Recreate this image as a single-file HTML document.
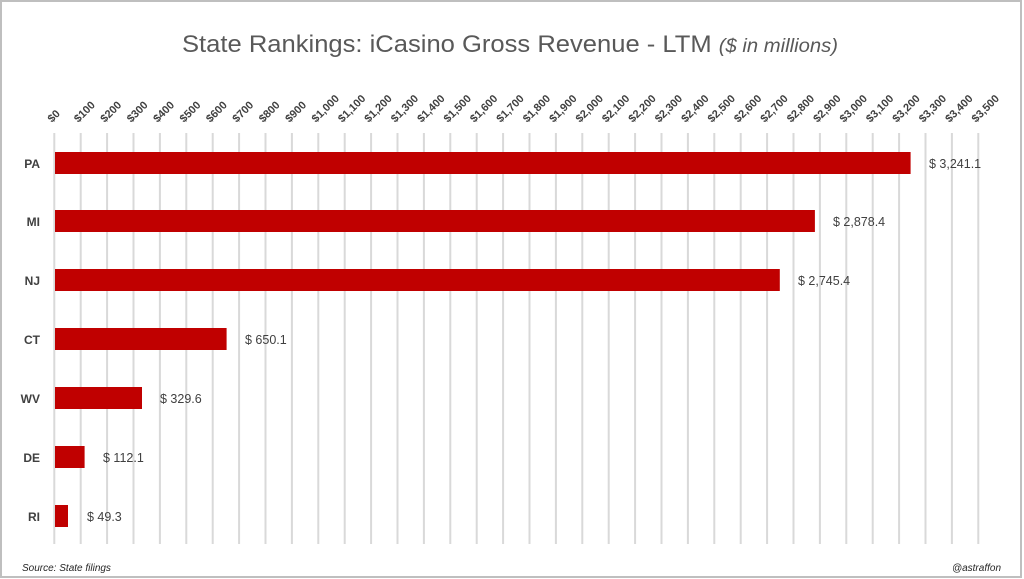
<!DOCTYPE html>
<html><head><meta charset="utf-8"><style>
html,body{margin:0;padding:0;background:#fff;}
svg{display:block;font-family:"Liberation Sans",sans-serif;}
.t{font-size:11px;font-weight:bold;fill:#404040;}
.v{font-size:12.5px;fill:#404040;}
.c{font-size:12px;font-weight:bold;fill:#404040;}
</style></head><body>
<svg width="1024" height="579" viewBox="0 0 1024 579">
<rect x="1" y="1" width="1020" height="576" fill="#fff" stroke="#bfbfbf" stroke-width="2"/>
<text x="510" y="52" text-anchor="middle" font-size="24" fill="#595959" textLength="656" lengthAdjust="spacingAndGlyphs">State Rankings: iCasino Gross Revenue - LTM <tspan font-style="italic" font-size="19">($ in millions)</tspan></text>
<g stroke="#d9d9d9" stroke-width="2">
<line x1="54.3" y1="133" x2="54.3" y2="544"/><line x1="80.7" y1="133" x2="80.7" y2="544"/><line x1="107.1" y1="133" x2="107.1" y2="544"/><line x1="133.5" y1="133" x2="133.5" y2="544"/><line x1="159.9" y1="133" x2="159.9" y2="544"/><line x1="186.3" y1="133" x2="186.3" y2="544"/><line x1="212.7" y1="133" x2="212.7" y2="544"/><line x1="239.1" y1="133" x2="239.1" y2="544"/><line x1="265.5" y1="133" x2="265.5" y2="544"/><line x1="291.9" y1="133" x2="291.9" y2="544"/><line x1="318.3" y1="133" x2="318.3" y2="544"/><line x1="344.7" y1="133" x2="344.7" y2="544"/><line x1="371.1" y1="133" x2="371.1" y2="544"/><line x1="397.5" y1="133" x2="397.5" y2="544"/><line x1="423.9" y1="133" x2="423.9" y2="544"/><line x1="450.3" y1="133" x2="450.3" y2="544"/><line x1="476.7" y1="133" x2="476.7" y2="544"/><line x1="503.1" y1="133" x2="503.1" y2="544"/><line x1="529.5" y1="133" x2="529.5" y2="544"/><line x1="555.9" y1="133" x2="555.9" y2="544"/><line x1="582.3" y1="133" x2="582.3" y2="544"/><line x1="608.7" y1="133" x2="608.7" y2="544"/><line x1="635.1" y1="133" x2="635.1" y2="544"/><line x1="661.5" y1="133" x2="661.5" y2="544"/><line x1="687.9" y1="133" x2="687.9" y2="544"/><line x1="714.3" y1="133" x2="714.3" y2="544"/><line x1="740.7" y1="133" x2="740.7" y2="544"/><line x1="767.1" y1="133" x2="767.1" y2="544"/><line x1="793.5" y1="133" x2="793.5" y2="544"/><line x1="819.9" y1="133" x2="819.9" y2="544"/><line x1="846.3" y1="133" x2="846.3" y2="544"/><line x1="872.7" y1="133" x2="872.7" y2="544"/><line x1="899.1" y1="133" x2="899.1" y2="544"/><line x1="925.5" y1="133" x2="925.5" y2="544"/><line x1="951.9" y1="133" x2="951.9" y2="544"/><line x1="978.3" y1="133" x2="978.3" y2="544"/>
</g>
<g class="t">
<text transform="translate(52,123) rotate(-45)">$0</text>
<text transform="translate(78.4,123) rotate(-45)">$100</text>
<text transform="translate(104.8,123) rotate(-45)">$200</text>
<text transform="translate(131.2,123) rotate(-45)">$300</text>
<text transform="translate(157.6,123) rotate(-45)">$400</text>
<text transform="translate(184,123) rotate(-45)">$500</text>
<text transform="translate(210.4,123) rotate(-45)">$600</text>
<text transform="translate(236.8,123) rotate(-45)">$700</text>
<text transform="translate(263.2,123) rotate(-45)">$800</text>
<text transform="translate(289.6,123) rotate(-45)">$900</text>
<text transform="translate(316,123) rotate(-45)">$1,000</text>
<text transform="translate(342.4,123) rotate(-45)">$1,100</text>
<text transform="translate(368.8,123) rotate(-45)">$1,200</text>
<text transform="translate(395.2,123) rotate(-45)">$1,300</text>
<text transform="translate(421.6,123) rotate(-45)">$1,400</text>
<text transform="translate(448,123) rotate(-45)">$1,500</text>
<text transform="translate(474.4,123) rotate(-45)">$1,600</text>
<text transform="translate(500.8,123) rotate(-45)">$1,700</text>
<text transform="translate(527.2,123) rotate(-45)">$1,800</text>
<text transform="translate(553.6,123) rotate(-45)">$1,900</text>
<text transform="translate(580,123) rotate(-45)">$2,000</text>
<text transform="translate(606.4,123) rotate(-45)">$2,100</text>
<text transform="translate(632.8,123) rotate(-45)">$2,200</text>
<text transform="translate(659.2,123) rotate(-45)">$2,300</text>
<text transform="translate(685.6,123) rotate(-45)">$2,400</text>
<text transform="translate(712,123) rotate(-45)">$2,500</text>
<text transform="translate(738.4,123) rotate(-45)">$2,600</text>
<text transform="translate(764.8,123) rotate(-45)">$2,700</text>
<text transform="translate(791.2,123) rotate(-45)">$2,800</text>
<text transform="translate(817.6,123) rotate(-45)">$2,900</text>
<text transform="translate(844,123) rotate(-45)">$3,000</text>
<text transform="translate(870.4,123) rotate(-45)">$3,100</text>
<text transform="translate(896.8,123) rotate(-45)">$3,200</text>
<text transform="translate(923.2,123) rotate(-45)">$3,300</text>
<text transform="translate(949.6,123) rotate(-45)">$3,400</text>
<text transform="translate(976,123) rotate(-45)">$3,500</text>
</g>
<g fill="#c00000">
<rect x="55" y="152" width="855.6" height="22"/>
<rect x="55" y="210" width="759.9" height="22"/>
<rect x="55" y="269" width="724.8" height="22"/>
<rect x="55" y="328" width="171.6" height="22"/>
<rect x="55" y="387" width="87" height="22"/>
<rect x="55" y="446" width="29.6" height="22"/>
<rect x="55" y="505" width="13" height="22"/>
</g>
<g class="c" text-anchor="end">
<text x="40" y="168">PA</text><text x="40" y="226">MI</text><text x="40" y="285">NJ</text><text x="40" y="344">CT</text><text x="40" y="403">WV</text><text x="40" y="462">DE</text><text x="40" y="521">RI</text>
</g>
<g class="v">
<text x="929" y="168">$ 3,241.1</text>
<text x="833" y="226">$ 2,878.4</text>
<text x="798" y="285">$ 2,745.4</text>
<text x="245" y="344">$ 650.1</text>
<text x="160" y="403">$ 329.6</text>
<text x="103" y="462">$ 112.1</text>
<text x="87" y="521">$ 49.3</text>
</g>
<text x="22" y="571" font-size="10" font-style="italic" fill="#262626">Source: State filings</text>
<text x="1001" y="571" font-size="10" font-style="italic" fill="#262626" text-anchor="end">@astraffon</text>
</svg>
</body></html>
